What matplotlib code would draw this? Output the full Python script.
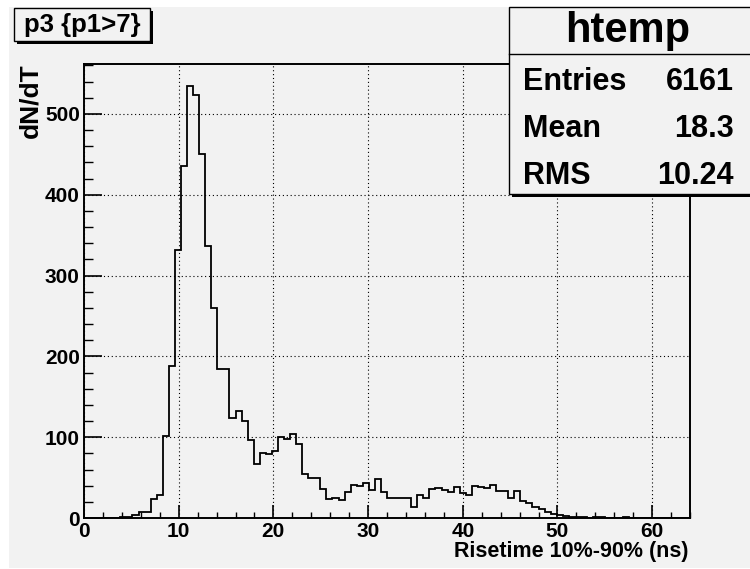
import numpy as np
import matplotlib
matplotlib.use("Agg")
import matplotlib.pyplot as plt
from matplotlib.patches import Rectangle

plt.rcParams['font.family'] = ['Liberation Sans', 'DejaVu Sans']
plt.rcParams['font.weight'] = 'bold'

# histogram: 100 bins from 0 to 64 ns
x_min, x_max, n_bins = 0.0, 64.0, 100
counts = [
    0, 0, 0, 0, 0, 0, 1, 1, 4, 7,
    8, 24, 29, 102, 188, 331, 435, 535, 524, 451,
    336, 260, 184, 184, 124, 132, 120, 97, 67, 80,
    79, 83, 100, 98, 104, 92, 54, 49, 49, 36,
    23, 25, 22, 32, 41, 39, 43, 35, 48, 32,
    25, 25, 25, 25, 13, 28, 25, 36, 37, 35,
    32, 38, 31, 29, 40, 38, 37, 41, 34, 34,
    25, 33, 21, 19, 13, 11, 8, 5, 4, 2,
    1, 1, 1, 0, 1, 1, 0, 0, 0, 1,
    0, 0, 0, 0, 0, 0, 0, 0, 0, 0,
]
x_ticks = [0, 10, 20, 30, 40, 50, 60]
y_ticks = [0, 100, 200, 300, 400, 500]

title_text = "p3 {p1>7}"
stats_name = "htemp"
stats_rows = [("Entries", "6161"), ("Mean", "18.3"), ("RMS", "10.24")]

W, H = 750, 569
bg = '#f2f2f2'


def fx(x):
    return x / W


def fy(y):
    return 1 - y / H


fig = plt.figure(figsize=(W / 100, H / 100), dpi=100, facecolor='white')

# canvas background
fig.patches.append(Rectangle((fx(9), fy(568)), fx(750) - fx(9), fy(7) - fy(568),
                             transform=fig.transFigure, facecolor=bg, edgecolor='none', zorder=-5))

ax = fig.add_axes([fx(84), fy(518), (690 - 84) / W, (518 - 64) / H])
ax.set_zorder(1)
ax.set_facecolor(bg)

edges = np.linspace(x_min, x_max, n_bins + 1)
ax.stairs(counts, edges, color='black', lw=1.3, zorder=3)

ax.set_xlim(x_min, x_max)
ax.set_ylim(0, max(counts) * 1.05)

ax.set_xticks(x_ticks)
ax.set_yticks(y_ticks)
ax.set_xticks(np.arange(0, 64.1, 2), minor=True)
ax.set_yticks(np.arange(0, 561, 20), minor=True)
ax.tick_params(axis='x', which='major', direction='in', length=9.5, width=1.2, pad=3, labelsize=15)
ax.tick_params(axis='x', which='minor', direction='in', length=4.5, width=1.0)
ax.tick_params(axis='y', which='major', direction='in', length=13, width=1.2, pad=3, labelsize=15)
ax.tick_params(axis='y', which='minor', direction='in', length=6.5, width=1.0)
for lab in ax.get_xticklabels() + ax.get_yticklabels():
    lab.set_fontweight('bold')

ax.grid(True, which='major', color='black', linestyle=(0, (1, 2.5)), lw=0.8)
for s in ax.spines.values():
    s.set_linewidth(1.4)

# axis titles
fig.text(fx(688), fy(551), "Risetime 10%-90% (ns)", ha='right', va='center',
         fontsize=15.5, fontweight='bold')
fig.text(fx(30), fy(63), "dN/dT", ha='center', va='top', rotation=90,
         fontsize=19, fontweight='bold')


def pave(x0, y0, x1, y1, shadow=3):
    fig.patches.append(Rectangle((fx(x0 + shadow), fy(y1 + shadow)), (x1 - x0) / W, (y1 - y0) / H,
                                 transform=fig.transFigure, facecolor='black', edgecolor='none', zorder=5))
    fig.patches.append(Rectangle((fx(x0), fy(y1)), (x1 - x0) / W, (y1 - y0) / H,
                                 transform=fig.transFigure, facecolor=bg, edgecolor='black', lw=1.0, zorder=6))


# title box
pave(14, 8, 150, 41)
fig.text(fx(82), fy(25), title_text, ha='center', va='center', fontsize=18.5, fontweight='bold', zorder=7)

# stats box
pave(509, 7, 752, 194)
fig.add_artist(plt.Line2D([fx(509), fx(750)], [fy(54), fy(54)], transform=fig.transFigure,
                          color='black', lw=1.0, zorder=7))
fig.text(fx(628), fy(31), stats_name, ha='center', va='center', fontsize=30, fontweight='bold', zorder=7)
row_y = [82, 129, 176]
for (name, val), yy in zip(stats_rows, row_y):
    fig.text(fx(523), fy(yy), name, ha='left', va='center', fontsize=22, fontweight='bold', zorder=7)
    fig.text(fx(734), fy(yy), val, ha='right', va='center', fontsize=22, fontweight='bold', zorder=7)

fig.savefig("out.png", dpi=100, facecolor=fig.get_facecolor())
